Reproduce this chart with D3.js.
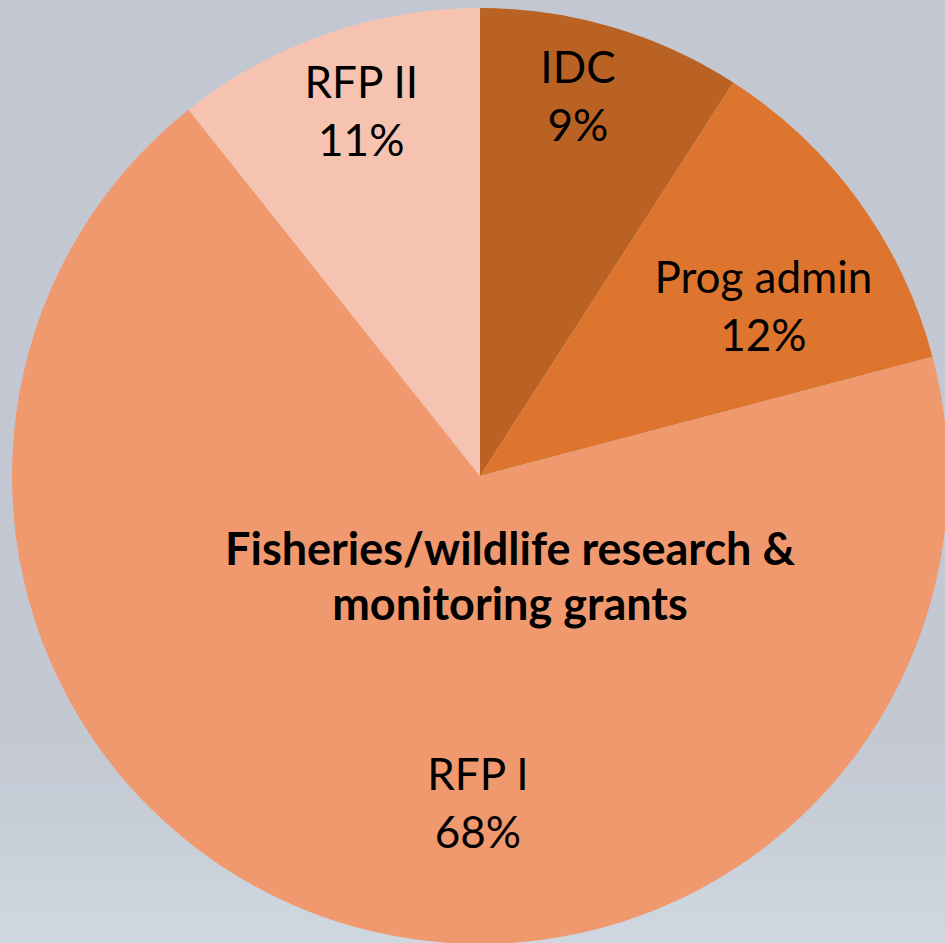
<!DOCTYPE html>
<html>
<head>
<meta charset="utf-8">
<script src="https://cdn.jsdelivr.net/npm/d3@7"></script>
<style>
  body { margin: 0; overflow: hidden; }
  text { font-family: Lato, "Open Sans", sans-serif; }
</style>
</head>
<body>
<div id="pie_chart"></div>
<script>
// slice data, clockwise from 12 o'clock
var categories = ["IDC", "Prog admin", "RFP I", "RFP II"];
var shares = [9.1, 11.8, 68.4, 10.7];
var colors = ["#b96224", "#de752e", "#f0996f", "#f6c3b1"];
var centerTitle = ["Fisheries/wildlife research &", "monitoring grants"];

var width = 945, height = 943;
var cx = 480, cy = 476, radius = 468;

// where Excel dropped the labels (radius, angle shift in degrees)
var labelPlace = [
  {r: 384, shift: -1.6},
  {r: 326, shift: 6.4},
  {r: 336, shift: -18.0},
  {r: 375, shift: 0.8}
];

var svg = d3.select("#pie_chart")
  .append("svg")
    .attr("width", width)
    .attr("height", height);

// background, pale sea haze at the bottom
var defs = svg.append("defs");
var grad = defs.append("linearGradient")
    .attr("id", "bg")
    .attr("x1", 0).attr("y1", 0).attr("x2", 0).attr("y2", 1);
grad.append("stop").attr("offset", "0%").attr("stop-color", "#c3c7d2");
grad.append("stop").attr("offset", "78%").attr("stop-color", "#c3c8d3");
grad.append("stop").attr("offset", "90%").attr("stop-color", "#c9d0da");
grad.append("stop").attr("offset", "100%").attr("stop-color", "#cfd8e1");

svg.append("rect")
    .attr("width", width)
    .attr("height", height)
    .attr("fill", "url(#bg)");

var data = categories.map(function(c, i) {
  return {name: c, value: shares[i], color: colors[i], place: labelPlace[i]};
});
var total = d3.sum(shares);

var pie = d3.pie()
    .sort(null)
    .value(function(d) { return d.value; });

var arc = d3.arc()
    .innerRadius(0)
    .outerRadius(radius);

var g = svg.append("g")
    .attr("transform", "translate(" + cx + "," + cy + ")");

var arcs = pie(data);

g.selectAll("path")
    .data(arcs)
  .enter().append("path")
    .attr("d", arc)
    .attr("fill", function(d) { return d.data.color; });

// labels: name + percent
var labels = g.selectAll(".lbl")
    .data(arcs)
  .enter().append("g")
    .attr("class", "lbl")
    .attr("transform", function(d) {
      var a = (d.startAngle + d.endAngle) / 2 + d.data.place.shift * Math.PI / 180;
      var r = d.data.place.r;
      return "translate(" + (r * Math.sin(a)) + "," + (-r * Math.cos(a)) + ")";
    });

labels.append("text")
    .attr("text-anchor", "middle")
    .attr("y", -22)
    .attr("font-size", 44)
    .attr("fill", "#000")
    .text(function(d) { return d.data.name; });

labels.append("text")
    .attr("text-anchor", "middle")
    .attr("y", 36)
    .attr("font-size", 44)
    .attr("fill", "#000")
    .text(function(d) { return Math.round(d.data.value / total * 100) + "%"; });

// bold caption inside the big slice
g.append("text")
    .attr("text-anchor", "middle")
    .attr("font-size", 45)
    .attr("font-weight", "bold")
    .attr("fill", "#000")
    .selectAll("tspan")
    .data(centerTitle)
  .enter().append("tspan")
    .attr("x", 30)
    .attr("y", function(d, i) { return 89 + i * 55; })
    .text(function(d) { return d; });
</script>
</body>
</html>
